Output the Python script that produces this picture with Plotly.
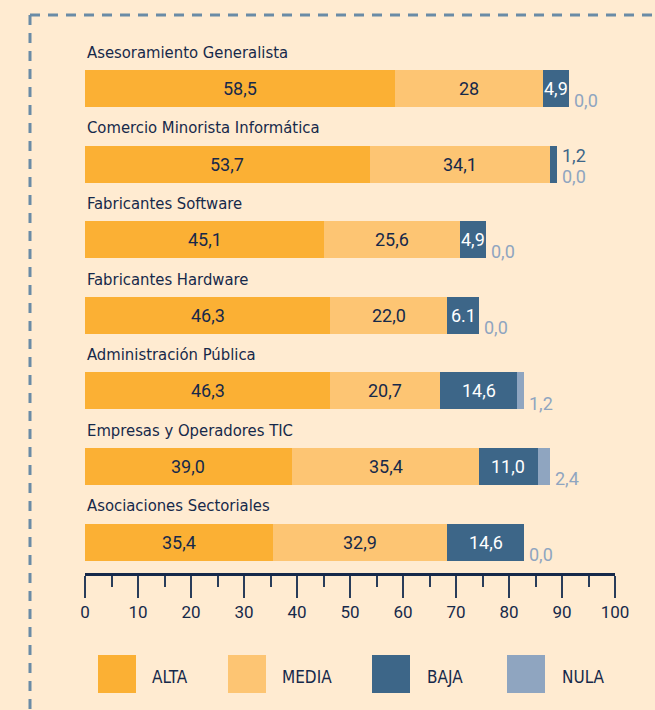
import plotly.graph_objects as go

categories = [
    "Asesoramiento Generalista",
    "Comercio Minorista Informática",
    "Fabricantes Software",
    "Fabricantes Hardware",
    "Administración Pública",
    "Empresas y Operadores TIC",
    "Asociaciones Sectoriales",
]
series_names = ["ALTA", "MEDIA", "BAJA", "NULA"]
alta = [58.5, 53.7, 45.1, 46.3, 46.3, 39.0, 35.4]
media = [28.0, 34.1, 25.6, 22.0, 20.7, 35.4, 32.9]
baja = [4.9, 1.2, 4.9, 6.1, 14.6, 11.0, 14.6]
nula = [0.0, 0.0, 0.0, 0.0, 1.2, 2.4, 0.0]
alta_labels = ["58,5", "53,7", "45,1", "46,3", "46,3", "39,0", "35,4"]
media_labels = ["28", "34,1", "25,6", "22,0", "20,7", "35,4", "32,9"]
baja_labels = ["4,9", "1,2", "4,9", "6.1", "14,6", "11,0", "14,6"]
nula_labels = ["0,0", "0,0", "0,0", "0,0", "1,2", "2,4", "0,0"]
x_ticks = [0, 10, 20, 30, 40, 50, 60, 70, 80, 90, 100]

colors = ["#FBB034", "#FDC573", "#3D6688", "#8FA5C0"]
BG = "#FFEBD1"
NAVY = "#16294A"
COND = "DejaVu Sans Condensed, Liberation Sans Narrow, sans-serif"
REG = "Roboto, Liberation Sans, Arial, sans-serif"

W, H = 655, 710
L, R, T, B = 85, 40, 40, 137
PW, PH = W - L - R, H - T - B

def pxx(px):
    return (px - L) / PW

def pxy(py):
    return (T + PH - py) / PH

ypos = list(range(len(categories)))
all_vals = [alta, media, baja, nula]

fig = go.Figure()
for name, vals, col in zip(series_names, all_vals, colors):
    fig.add_trace(go.Bar(
        y=ypos, x=vals, name=name, orientation="h",
        marker=dict(color=col, line=dict(width=0)),
        width=0.49, showlegend=False, hoverinfo="skip",
    ))

ann = []
for i, cat in enumerate(categories):
    ann.append(dict(x=0, y=i - 0.48, xref="x", yref="y", text=cat,
                    showarrow=False, xanchor="left", yanchor="middle",
                    font=dict(family=COND, size=16.5, color=NAVY)))
    a, m, b, n = alta[i], media[i], baja[i], nula[i]
    ann.append(dict(x=a / 2, y=i, xref="x", yref="y", text=alta_labels[i],
                    showarrow=False, font=dict(family=REG, size=18, color=NAVY)))
    ann.append(dict(x=a + m / 2, y=i, xref="x", yref="y", text=media_labels[i],
                    showarrow=False, font=dict(family=REG, size=18, color=NAVY)))
    end = a + m + b + n
    if b >= 3:
        ann.append(dict(x=a + m + b / 2, y=i, xref="x", yref="y", text=baja_labels[i],
                        showarrow=False, font=dict(family=REG, size=18, color="#FFFFFF")))
        ann.append(dict(x=end, y=i + 0.16, xref="x", yref="y", text=nula_labels[i],
                        showarrow=False, xanchor="left", xshift=3,
                        font=dict(family=REG, size=18, color=colors[3])))
    else:
        ann.append(dict(x=end, y=i - 0.12, xref="x", yref="y", text=baja_labels[i],
                        showarrow=False, xanchor="left", xshift=3,
                        font=dict(family=REG, size=18, color=colors[2])))
        ann.append(dict(x=end, y=i + 0.17, xref="x", yref="y", text=nula_labels[i],
                        showarrow=False, xanchor="left", xshift=3,
                        font=dict(family=REG, size=18, color=colors[3])))

shapes = []
leg_sq_x = [98, 228, 372, 507]
leg_tx_x = [150, 280, 425, 560]
for name, col, sx, tx in zip(series_names, colors, leg_sq_x, leg_tx_x):
    shapes.append(dict(type="rect", xref="paper", yref="paper",
                       x0=pxx(sx), x1=pxx(sx + 38), y0=pxy(693), y1=pxy(655),
                       fillcolor=col, line=dict(width=0)))
    ann.append(dict(x=pxx(tx), y=pxy(677), xref="paper", yref="paper", text=name,
                    showarrow=False, xanchor="left", yanchor="middle",
                    font=dict(family=COND, size=17, color=NAVY)))

frame_col = "#6A8BA6"
shapes.append(dict(type="line", xref="paper", yref="paper",
                   x0=pxx(30), x1=pxx(660), y0=pxy(15), y1=pxy(15),
                   line=dict(color=frame_col, width=3, dash="10px,8px")))
shapes.append(dict(type="line", xref="paper", yref="paper",
                   x0=pxx(30), x1=pxx(30), y0=pxy(15), y1=pxy(715),
                   line=dict(color=frame_col, width=3, dash="10px,8px")))

unit = 75.6
top_off = (88.5 - T) / unit
fig.update_layout(
    width=W, height=H,
    margin=dict(l=L, r=R, t=T, b=B),
    paper_bgcolor=BG, plot_bgcolor=BG,
    barmode="stack", bargap=0,
    annotations=ann, shapes=shapes,
    xaxis=dict(range=[0, 100], tickvals=x_ticks, ticktext=[str(v) for v in x_ticks],
               showgrid=False, zeroline=False, showline=True,
               linecolor=NAVY, linewidth=2.5,
               ticks="outside", ticklen=22, tickwidth=1.5, tickcolor="#2A3D5A",
               minor=dict(dtick=5, tick0=0, ticks="outside", ticklen=11, tickwidth=1.5,
                          tickcolor="#2A3D5A", showgrid=False),
               tickfont=dict(family=REG, size=17, color=NAVY), fixedrange=True),
    yaxis=dict(range=[-top_off + PH / unit, -top_off], visible=False,
               showgrid=False, zeroline=False, fixedrange=True),
    font=dict(family=REG, color=NAVY),
)

fig.write_html(
    "out.html",
    config={"displayModeBar": False},
    post_script="document.body.style.margin='0';document.body.style.background='" + BG + "';",
)
